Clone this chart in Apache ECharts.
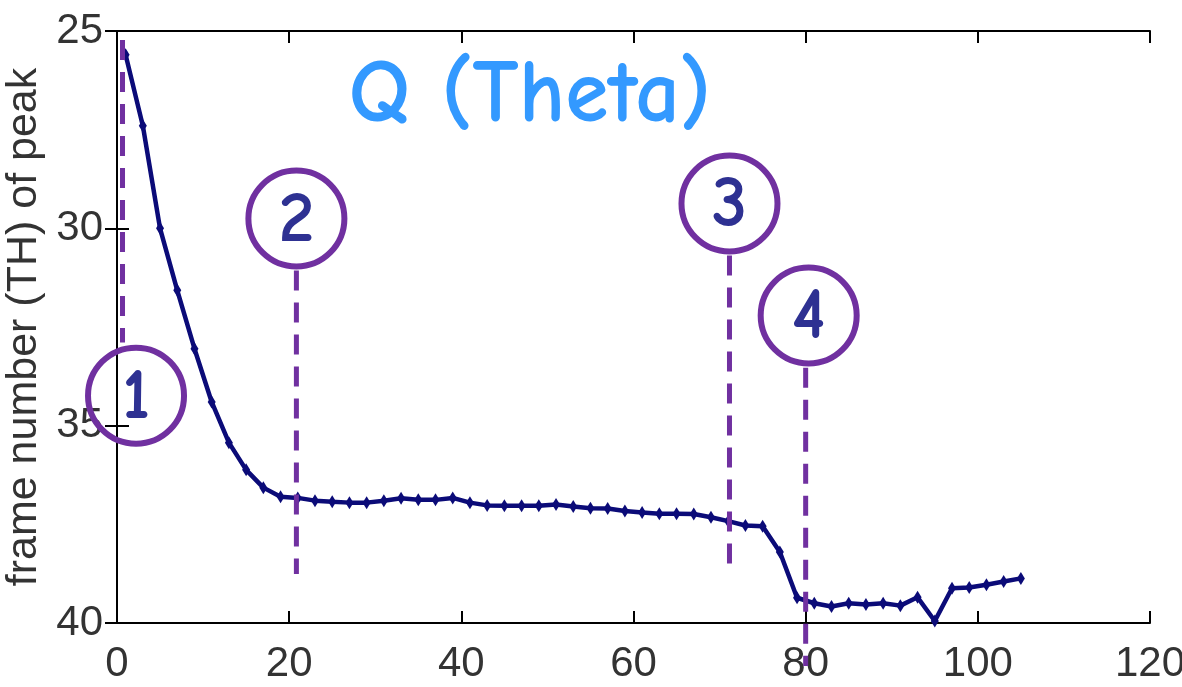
<!DOCTYPE html>
<html>
<head>
<meta charset="utf-8">
<script src="https://cdn.jsdelivr.net/npm/echarts@6/dist/echarts.min.js"></script>
<style>
  html, body { margin: 0; padding: 0; background: #fff; }
  #chart { width: 1182px; height: 687px; }
</style>
</head>
<body>
<div id="chart"></div>
<script>
// Frame index along the sequence (x) and frame number of the theta peak (y)
const frames = [1, 3, 5, 7, 9, 11, 13, 15, 17, 19, 21, 23, 25, 27, 29, 31, 33, 35, 37, 39,
  41, 43, 45, 47, 49, 51, 53, 55, 57, 59, 61, 63, 65, 67, 69, 71, 73, 75, 77, 79,
  81, 83, 85, 87, 89, 91, 93, 95, 97, 99, 101, 103, 105];
const peakFrame = [25.60, 27.40, 30.00, 31.57, 33.05, 34.40, 35.43, 36.12, 36.57, 36.80,
  36.83, 36.90, 36.93, 36.95, 36.95, 36.90, 36.84, 36.88, 36.88, 36.83,
  36.95, 37.02, 37.03, 37.03, 37.03, 37.00, 37.05, 37.09, 37.10, 37.16,
  37.20, 37.23, 37.23, 37.24, 37.32, 37.42, 37.53, 37.55, 38.20, 39.36,
  39.50, 39.58, 39.50, 39.53, 39.50, 39.56, 39.35, 39.95, 39.12, 39.10,
  39.03, 38.95, 38.87];

// Axis ranges
const xRange = [0, 120, 20];
const yRange = [25, 40, 5];

// Stage markers: number, dashed guide (x, top, bottom) and circle centre, in data units
const stageLabels = ['1', '2', '3', '4'];
const stageLineX = [0.64, 20.84, 71.15, 80.0];
const stageLineTop = [25.23, 31.07, 30.69, 33.53];
const stageLineBottom = [32.89, 38.76, 38.60, 41.09];
const stageCircleX = [2.21, 20.84, 71.15, 80.35];
const stageCircleY = [34.24, 29.75, 29.37, 32.21];

const titleText = 'Q (Theta)';
const yAxisName = 'frame number (TH) of peak';

const tickFont = '"Liberation Sans", Arial, sans-serif';
const handFont = '"Comic Sans MS", "Comic Neue", "Open Sans", sans-serif';
const purple = '#7030a0';
const navy = '#2e3192';
const lineColor = '#0b0b78';

const chart = echarts.init(document.getElementById('chart'), null, { renderer: 'canvas' });

const axisLine = { show: true, lineStyle: { color: '#000', width: 2 } };
const axisTick = { show: true, inside: true, length: 12, lineStyle: { color: '#000', width: 2 } };
const tickLabel = { fontFamily: tickFont, fontSize: 42, color: '#333' };

chart.setOption({
  animation: false,
  backgroundColor: '#fff',
  grid: { left: 117, right: 32, top: 31, bottom: 64, containLabel: false, outerBoundsMode: 'none' },
  xAxis: [
    {
      type: 'value', position: 'bottom', min: xRange[0], max: xRange[1], interval: xRange[2],
      axisLine, axisTick, splitLine: { show: false },
      axisLabel: Object.assign({ margin: 20 }, tickLabel)
    },
    {
      type: 'value', position: 'top', min: xRange[0], max: xRange[1], interval: xRange[2],
      axisLine, axisTick, splitLine: { show: false }, axisLabel: { show: false }
    }
  ],
  yAxis: [
    {
      type: 'value', position: 'left', inverse: true, min: yRange[0], max: yRange[1], interval: yRange[2],
      axisLine, axisTick, splitLine: { show: false },
      axisLabel: Object.assign({ margin: 14 }, tickLabel),
      name: yAxisName, nameLocation: 'middle', nameGap: 70, nameRotate: 90,
      nameTextStyle: { fontFamily: tickFont, fontSize: 43, color: '#333' }
    },
    {
      type: 'value', position: 'right', inverse: true, min: yRange[0], max: yRange[1], interval: yRange[2],
      axisLine, axisTick, splitLine: { show: false }, axisLabel: { show: false }
    }
  ],
  series: [{
    type: 'line',
    xAxisIndex: 0, yAxisIndex: 0,
    data: frames.map((f, i) => [f, peakFrame[i]]),
    symbol: 'diamond',
    symbolSize: [8, 13],
    showAllSymbol: true,
    itemStyle: { color: lineColor },
    lineStyle: { color: lineColor, width: 4.5 },
    z: 3
  }]
});

// Overlay: title, dashed stage guides and numbered circles
const px = (x, y) => chart.convertToPixel({ gridIndex: 0 }, [x, y]);
const elements = [{
  type: 'text', x: 530, y: 96, z: 10,
  style: {
    text: titleText, fill: '#3399ff', font: 'bold 88px ' + handFont,
    textAlign: 'center', textVerticalAlign: 'middle'
  }
}];
stageLabels.forEach((label, i) => {
  const top = px(stageLineX[i], stageLineTop[i]);
  const bottom = px(stageLineX[i], stageLineBottom[i]);
  const centre = px(stageCircleX[i], stageCircleY[i]);
  elements.push({
    type: 'line', z: 10,
    shape: { x1: top[0], y1: top[1], x2: bottom[0], y2: bottom[1] },
    style: { stroke: purple, lineWidth: 5, lineDash: [20, 12] }
  });
  elements.push({
    type: 'circle', z: 11,
    shape: { cx: centre[0], cy: centre[1], r: 48 },
    style: { fill: null, stroke: purple, lineWidth: 6 }
  });
  elements.push({
    type: 'text', z: 12, x: centre[0], y: centre[1] + 2,
    style: {
      text: label, fill: navy, font: 'bold 72px ' + handFont,
      textAlign: 'center', textVerticalAlign: 'middle'
    }
  });
});
chart.setOption({ graphic: elements });
</script>
</body>
</html>
